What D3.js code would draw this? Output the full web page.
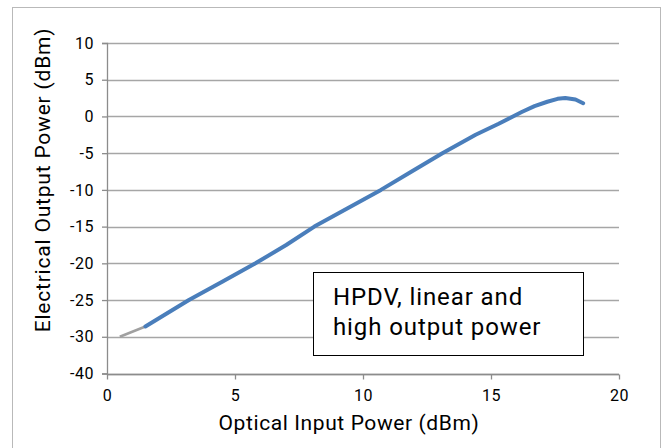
<!DOCTYPE html>
<html>
<head>
<meta charset="utf-8">
<script src="https://cdn.jsdelivr.net/npm/d3@7"></script>
<style>
	body { margin: 0; background: #fff; }
	text { font-family: Roboto, "Liberation Sans", sans-serif; fill: #000; }
</style>
</head>
<body>
<script>
// values
const lowRangeX = [0.5, 1.5];
const lowRangeY = [-30, -28.6];
const seriesX = [1.5, 3.2, 4.5, 5.8, 7.0, 8.1, 9.4, 10.7, 11.9, 13.1, 14.4, 15.3, 15.8, 16.2, 16.7, 17.2, 17.6, 17.9, 18.3, 18.6];
const seriesY = [-28.6, -25, -22.5, -20, -17.5, -15, -12.5, -10, -7.5, -5, -2.5, -1.0, -0.1, 0.6, 1.4, 2.0, 2.4, 2.5, 2.3, 1.8];
const xTicks = [0, 5, 10, 15, 20];
const yTicks = [10, 5, 0, -5, -10, -15, -20, -25, -30, -35];
const yTickLabels = ["10", "5", "0", "-5", "-10", "-15", "-20", "-25", "-30", "-40"];
const noteLines = ["HPDV, linear and", "high output power"];

function drawChart() {
	let width = 663;
	let height = 448;
	let margin = {left: 107, right: 44, top: 43, bottom: 75};

	let svg = d3.select("body").append("svg")
		.attr("width", width)
		.attr("height", height);

	// outer chart frame
	svg.append("rect")
		.attr("x", 12.5).attr("y", 7.5)
		.attr("width", 648).attr("height", 460)
		.attr("fill", "#fff")
		.attr("stroke", "#b9b9b9");

	let x = d3.scaleLinear().domain([0, 20]).range([margin.left, width - margin.right]);
	let y = d3.scaleLinear().domain([-35, 10]).range([height - margin.bottom + 0.5, margin.top]);

	// gridlines
	svg.append("g")
		.selectAll("line")
		.data(yTicks)
		.join("line")
		.attr("x1", x(0)).attr("x2", x(20))
		.attr("y1", d => Math.round(y(d)) + 0.5)
		.attr("y2", d => Math.round(y(d)) + 0.5)
		.attr("stroke", "#a6a6a6")
		.attr("stroke-width", 1.3);

	let yAxis = svg.append("g")
		.attr("transform", `translate(${x(0)},0)`)
		.call(d3.axisLeft(y).tickValues(yTicks)
			.tickFormat((d, i) => yTickLabels[i])
			.tickSize(5).tickPadding(8));
	yAxis.selectAll("line, path").attr("stroke", "#8c8c8c").attr("stroke-width", 1.3);
	yAxis.selectAll("text").attr("font-size", 16).attr("font-family", "Roboto")
		.attr("letter-spacing", 0.5);

	let xAxis = svg.append("g")
		.attr("transform", `translate(0,${Math.round(y(-35)) + 0.5})`)
		.call(d3.axisBottom(x).tickValues(xTicks).tickSize(5).tickPadding(10).tickSizeOuter(0));
	xAxis.selectAll("line, path").attr("stroke", "#8c8c8c").attr("stroke-width", 1.3);
	xAxis.select(".domain").attr("d", `M${x(0)},0H${x(20)}`);
	xAxis.selectAll("text").attr("font-size", 16).attr("font-family", "Roboto")
		.attr("letter-spacing", 0.5);

	let line = d3.line()
		.x(d => x(d[0]))
		.y(d => y(d[1]));

	svg.append("path")
		.datum(lowRangeX.map((v, i) => [v, lowRangeY[i]]))
		.attr("d", line)
		.attr("fill", "none")
		.attr("stroke", "#a0a0a0")
		.attr("stroke-width", 2.5);

	svg.append("path")
		.datum(seriesX.map((v, i) => [v, seriesY[i]]))
		.attr("d", line)
		.attr("fill", "none")
		.attr("stroke", "#4a7ebb")
		.attr("stroke-width", 4)
		.attr("stroke-linecap", "round")
		.attr("stroke-linejoin", "round");

	// axis titles
	svg.append("text")
		.attr("x", 349)
		.attr("y", 430)
		.attr("text-anchor", "middle")
		.attr("font-size", 21)
		.attr("letter-spacing", 0.6)
		.text("Optical Input Power (dBm)");

	svg.append("text")
		.attr("transform", `translate(50,180) rotate(-90)`)
		.attr("text-anchor", "middle")
		.attr("font-size", 21)
		.attr("letter-spacing", 0.8)
		.text("Electrical Output Power (dBm)");

	// note box
	svg.append("rect")
		.attr("x", 313.5).attr("y", 272.5)
		.attr("width", 270).attr("height", 83)
		.attr("fill", "#fff")
		.attr("stroke", "#000")
		.attr("stroke-width", 1);

	svg.append("g")
		.selectAll("text")
		.data(noteLines)
		.join("text")
		.attr("x", 333)
		.attr("y", (d, i) => 305 + i * 30)
		.attr("font-size", 24)
		.attr("letter-spacing", 0.9)
		.text(d => d);
}

drawChart();
</script>
</body>
</html>
